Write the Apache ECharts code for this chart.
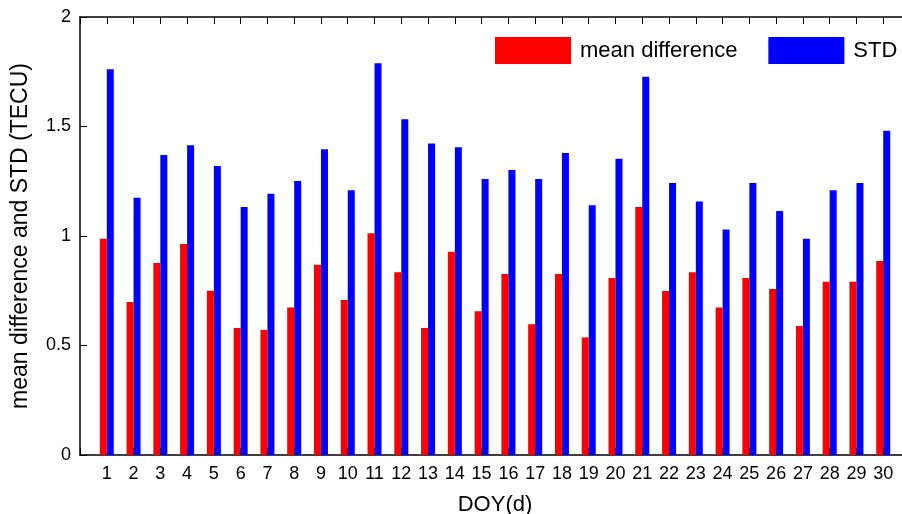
<!DOCTYPE html>
<html>
<head>
<meta charset="utf-8">
<title>DOY mean difference and STD</title>
<script src="https://cdn.jsdelivr.net/npm/echarts@6/dist/echarts.min.js"></script>
<style>
  html, body { margin: 0; padding: 0; background: #fff; }
  #chart { width: 902px; height: 514px; }
</style>
</head>
<body>
<div id="chart"></div>
<script>
// Day-of-year categories and per-day statistics (TECU)
const days = [1, 2, 3, 4, 5, 6, 7, 8, 9, 10, 11, 12, 13, 14, 15, 16, 17, 18, 19, 20, 21, 22, 23, 24, 25, 26, 27, 28, 29, 30];
const meanDifference = [0.988, 0.699, 0.877, 0.963, 0.750, 0.580, 0.571, 0.674, 0.869, 0.708,
                        1.012, 0.834, 0.580, 0.928, 0.656, 0.826, 0.597, 0.826, 0.537, 0.808,
                        1.132, 0.749, 0.834, 0.674, 0.808, 0.758, 0.589, 0.791, 0.791, 0.886];
const stdValues = [1.761, 1.175, 1.370, 1.414, 1.320, 1.132, 1.193, 1.251, 1.396, 1.209,
                   1.789, 1.533, 1.422, 1.405, 1.260, 1.301, 1.260, 1.379, 1.140, 1.353,
                   1.727, 1.242, 1.158, 1.030, 1.242, 1.114, 0.988, 1.209, 1.242, 1.481];
const yTicks = [0, 0.5, 1, 1.5, 2];

const FONT = '"Liberation Sans", Arial, Helvetica, sans-serif';
const chart = echarts.init(document.getElementById('chart'), null, { renderer: 'canvas' });

const pairs = (vals) => days.map((d, i) => [d, vals[i]]);
const axisLine = { show: true, lineStyle: { color: '#000', width: 1.5 } };
const dayTicks = { show: true, inside: true, length: 7, lineStyle: { color: '#000', width: 1 } };

chart.setOption({
  animation: false,
  backgroundColor: '#fff',
  textStyle: { fontFamily: FONT, color: '#000' },
  grid: { left: 80, top: 17, bottom: 59, right: -8, outerBoundsMode: 'none', containLabel: false },
  legend: {
    left: 495, top: 37, padding: 0,
    itemWidth: 76, itemHeight: 27, itemGap: 31,
    icon: 'rect',
    textStyle: { fontFamily: FONT, fontSize: 22, color: '#000', padding: [0, 0, 0, 4] },
    data: ['mean difference', 'STD']
  },
  xAxis: [{
    type: 'value', position: 'bottom',
    min: 0, max: 31, interval: 1,
    name: 'DOY(d)', nameLocation: 'middle', nameGap: 39,
    nameTextStyle: { fontFamily: FONT, fontSize: 22, color: '#000' },
    axisLine: axisLine, axisTick: dayTicks,
    axisLabel: {
      fontFamily: FONT, fontSize: 18, color: '#000', margin: 10,
      formatter: (v) => (days.indexOf(v) >= 0 ? String(v) : '')
    },
    splitLine: { show: false }
  }, {
    type: 'value', position: 'top',
    min: 0, max: 31, interval: 1,
    axisLine: axisLine, axisTick: dayTicks,
    axisLabel: { show: false },
    splitLine: { show: false }
  }],
  yAxis: {
    type: 'value', min: yTicks[0], max: yTicks[yTicks.length - 1], interval: 0.5,
    name: 'mean difference and STD (TECU)', nameLocation: 'middle', nameGap: 48,
    nameTextStyle: { fontFamily: FONT, fontSize: 23, color: '#000' },
    axisLine: axisLine,
    axisTick: { show: true, inside: true, length: 7, lineStyle: { color: '#000', width: 1 } },
    axisLabel: { fontFamily: FONT, fontSize: 18, color: '#000', margin: 9 },
    splitLine: { show: false }
  },
  series: [{
    name: 'mean difference', type: 'bar', xAxisIndex: 0,
    barWidth: 7, barGap: '0%',
    itemStyle: { color: '#ff0000' },
    data: pairs(meanDifference)
  }, {
    name: 'STD', type: 'bar', xAxisIndex: 0,
    barWidth: 7, barGap: '0%',
    itemStyle: { color: '#0000ff' },
    data: pairs(stdValues)
  }]
});
</script>
</body>
</html>
